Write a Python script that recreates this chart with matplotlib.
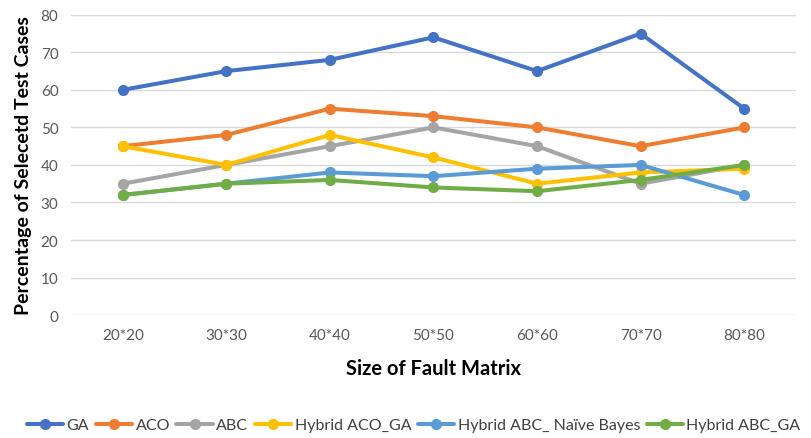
import matplotlib
matplotlib.use("Agg")
import matplotlib.pyplot as plt

categories = ["20*20", "30*30", "40*40", "50*50", "60*60", "70*70", "80*80"]
ga = [60, 65, 68, 74, 65, 75, 55]
aco = [45, 48, 55, 53, 50, 45, 50]
abc = [35, 40, 45, 50, 45, 35, 40]
hybrid_aco_ga = [45, 40, 48, 42, 35, 38, 39]
hybrid_abc_nb = [32, 35, 38, 37, 39, 40, 32]
hybrid_abc_ga = [32, 35, 36, 34, 33, 36, 40]

series = [
    ("GA", ga, "#4472C4"),
    ("ACO", aco, "#ED7D31"),
    ("ABC", abc, "#A5A5A5"),
    ("Hybrid ACO_GA", hybrid_aco_ga, "#FFC000"),
    ("Hybrid ABC_ Naïve Bayes", hybrid_abc_nb, "#5B9BD5"),
    ("Hybrid ABC_GA", hybrid_abc_ga, "#70AD47"),
]

plt.rcParams['font.family'] = ['Lato', 'DejaVu Sans']

fig = plt.figure(figsize=(8.11, 4.39), dpi=100)
ax = fig.add_axes([0.0875, 0.28, 0.894, 0.684])
x = list(range(len(categories)))
for name, vals, col in series:
    ax.plot(x, vals, color=col, lw=2.9, marker='o', markersize=7, label=name,
            solid_capstyle='round', solid_joinstyle='round')

ax.set_xlim(-0.5, len(categories) - 0.5)
ax.set_ylim(0, 80)
ax.set_yticks(range(0, 81, 10))
ax.set_xticks(x)
ax.set_xticklabels(categories)
ax.grid(axis='y', color='#D9D9D9', lw=1)
ax.set_axisbelow(True)
for s in ax.spines.values():
    s.set_visible(False)
ax.tick_params(length=0, colors='#595959', labelsize=11, pad=9)
ax.set_xlabel("Size of Fault Matrix", fontsize=14.5, fontweight='bold', labelpad=12)
ax.set_ylabel("Percentage of Selecetd Test Cases", fontsize=14, fontweight='bold', labelpad=6)

fig.legend(loc='lower center', bbox_to_anchor=(0.51, -0.02), ncol=6, frameon=False,
           fontsize=11.5, handlelength=2.3, columnspacing=0.4, handletextpad=0.2,
           labelcolor='#404040')
fig.savefig("out.png", dpi=100)
